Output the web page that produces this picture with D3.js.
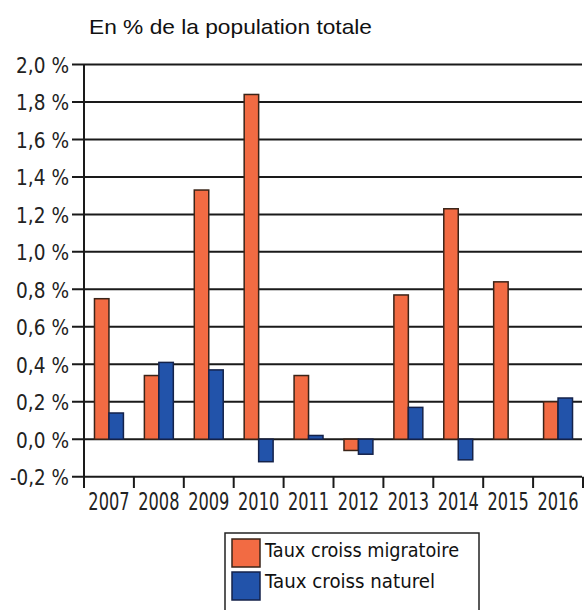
<!DOCTYPE html>
<html><head><meta charset="utf-8">
<script src="https://cdn.jsdelivr.net/npm/d3@7"></script>
<style>body{margin:0;background:#fff}svg{display:block}</style>
</head><body>
<svg id="c" width="584" height="610"></svg>
<script>
const years = ["2007","2008","2009","2010","2011","2012","2013","2014","2015","2016"];
const migratoire = [0.75,0.34,1.33,1.84,0.34,-0.06,0.77,1.23,0.84,0.20];
const naturel = [0.14,0.41,0.37,-0.12,0.02,-0.08,0.17,-0.11,null,0.22];
const yTicks = [-0.2,0,0.2,0.4,0.6,0.8,1.0,1.2,1.4,1.6,1.8,2.0];
const yTickLabels = ["-0,2 %","0,0 %","0,2 %","0,4 %","0,6 %","0,8 %","1,0 %","1,2 %","1,4 %","1,6 %","1,8 %","2,0 %"];
const seriesNames = ["Taux croiss migratoire","Taux croiss naturel"];
const colors = ["#F26B43","#2253AA"];
const strokes = ["#3a2418","#14224a"];

const svg = d3.select("#c");
const x = d3.scaleBand().domain(years).range([84,583]).padding(0);
const bw = x.bandwidth();
const xs = d3.scaleBand().domain([0,1]).range([bw*0.21,bw*0.79]).padding(0);
const y = d3.scaleLinear().domain([-0.2,2.0]).range([476.7,64.5]);

// title
svg.append("text").attr("x",89).attr("y",34)
  .attr("font-family","Liberation Sans, Arial, sans-serif").attr("font-size",21)
  .attr("fill","#111").attr("textLength",283).attr("lengthAdjust","spacingAndGlyphs")
  .text("En % de la population totale");

// gridlines
svg.append("g").selectAll("line").data(yTicks).join("line")
  .attr("x1",72).attr("x2",582).attr("y1",d=>y(d)).attr("y2",d=>y(d))
  .attr("stroke","#1a1a1a").attr("stroke-width",2);

// y labels
svg.append("g").selectAll("text").data(yTicks).join("text")
  .attr("text-anchor","end")
  .attr("transform",d=>`translate(69,${y(d)+8.5}) scale(1,1.15)`)
  .attr("font-family","DejaVu Sans, Verdana, sans-serif").attr("font-size",19)
  .attr("fill","#222").attr("textLength",(d,i)=>yTickLabels[i].length>5?59:53).attr("lengthAdjust","spacingAndGlyphs")
  .text((d,i)=>yTickLabels[i]);

// y axis line
svg.append("line").attr("x1",84).attr("x2",84).attr("y1",y(2.0)).attr("y2",488)
  .attr("stroke","#1a1a1a").attr("stroke-width",2);

// x ticks
const tickXs = years.map(d=>x(d)).concat([x(years[years.length-1])+bw]);
svg.append("g").selectAll("line").data(tickXs).join("line")
  .attr("x1",d=>d).attr("x2",d=>d).attr("y1",y(-0.2)).attr("y2",488)
  .attr("stroke","#1a1a1a").attr("stroke-width",2);

// x labels
svg.append("g").selectAll("text").data(years).join("text")
  .attr("text-anchor","middle")
  .attr("transform",d=>`translate(${x(d)+bw/2},510) scale(1,1.35)`)
  .attr("font-family","DejaVu Sans Condensed, DejaVu Sans, sans-serif").attr("font-size",18)
  .attr("fill","#222")
  .text(d=>d);

// bars
const series = [migratoire, naturel];
series.forEach((vals,si)=>{
  svg.append("g").selectAll("rect").data(years.map((yr,i)=>({yr,v:vals[i]})).filter(d=>d.v!==null))
    .join("rect")
    .attr("x",d=>x(d.yr)+xs(si)).attr("width",xs.bandwidth())
    .attr("y",d=>y(Math.max(0,d.v))).attr("height",d=>Math.abs(y(d.v)-y(0)))
    .attr("fill",colors[si]).attr("stroke",strokes[si]).attr("stroke-width",1.5);
});

// legend
const lg = svg.append("g");
lg.append("rect").attr("x",225).attr("y",533).attr("width",254).attr("height",100)
  .attr("fill","#fff").attr("stroke","#222").attr("stroke-width",1.5);
seriesNames.forEach((n,i)=>{
  lg.append("rect").attr("x",232).attr("y",539+i*33).attr("width",28).attr("height",28)
    .attr("fill",colors[i]).attr("stroke",strokes[i]).attr("stroke-width",1.5);
  lg.append("text").attr("transform",`translate(265,${557+i*31}) scale(1,1.1)`)
    .attr("font-family","DejaVu Sans, Verdana, sans-serif").attr("font-size",17.5)
    .attr("fill","#111").attr("textLength",i===0?194:170).attr("lengthAdjust","spacingAndGlyphs")
    .text(n);
});
</script>
</body></html>
